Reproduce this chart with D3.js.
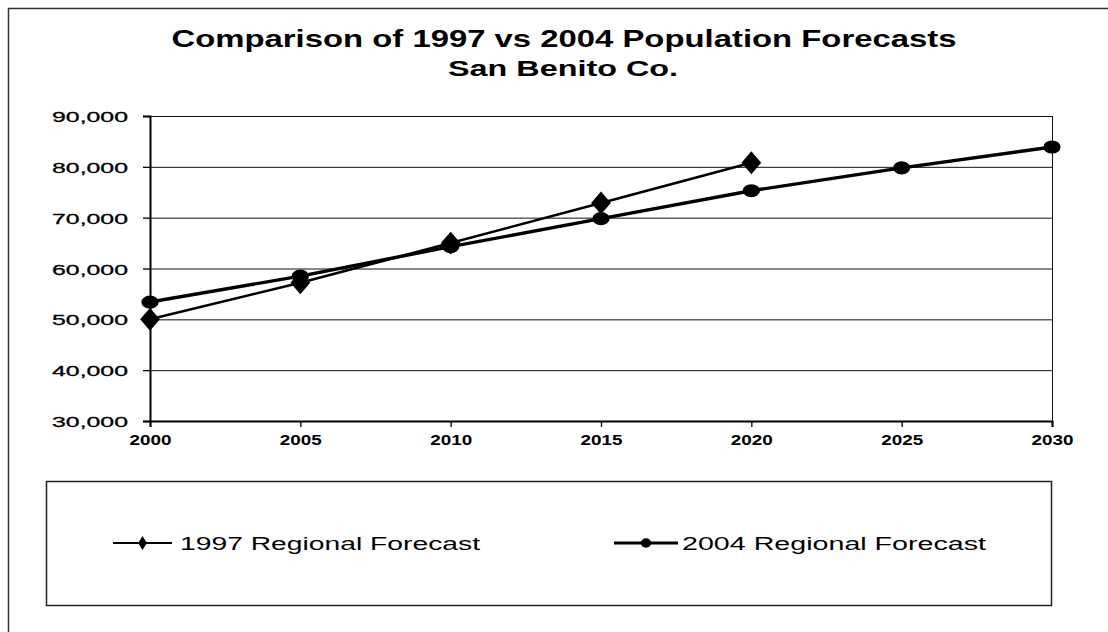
<!DOCTYPE html>
<html><head><meta charset="utf-8">
<script src="https://cdn.jsdelivr.net/npm/d3@7"></script>
<style>body{margin:0;background:#fff;}svg{display:block;}</style>
</head><body>
<svg id="c" width="1108" height="632"></svg>
<script>
const years = [2000, 2005, 2010, 2015, 2020, 2025, 2030];
const forecast1997 = [50000, 57200, 65000, 72900, 80800];
const forecast2004 = [53400, 58500, 64300, 69800, 75300, 79800, 83900];
const yTicks = [30000, 40000, 50000, 60000, 70000, 80000, 90000];
const seriesNames = ["1997 Regional Forecast", "2004 Regional Forecast"];
const titleLines = ["Comparison of 1997 vs 2004 Population Forecasts", "San Benito Co."];

const svg = d3.select("#c");
const font = "'Liberation Sans', Arial, sans-serif";
const x = d3.scaleLinear().domain([2000, 2030]).range([150, 1052]);
const y = d3.scaleLinear().domain([30000, 90000]).range([421, 116]);

// outer border
svg.append("path").attr("d", "M8.5,640V8.5H1110").attr("fill", "none").attr("stroke", "#333").attr("stroke-width", 1.5);

// title
svg.append("text").attr("x", 564).attr("y", 47).attr("text-anchor", "middle")
  .attr("font-family", font).attr("font-weight", "bold").attr("font-size", 23)
  .attr("textLength", 785).attr("lengthAdjust", "spacingAndGlyphs").text(titleLines[0]);
svg.append("text").attr("x", 563).attr("y", 76).attr("text-anchor", "middle")
  .attr("font-family", font).attr("font-weight", "bold").attr("font-size", 22)
  .attr("textLength", 230).attr("lengthAdjust", "spacingAndGlyphs").text(titleLines[1]);

// gridlines
svg.append("g").selectAll("line").data(yTicks.slice(1)).join("line")
  .attr("x1", 150).attr("x2", 1052).attr("y1", d => y(d) + 0.5).attr("y2", d => y(d) + 0.5)
  .attr("stroke", "#111").attr("stroke-width", 1);
// right border
svg.append("line").attr("x1", 1052.5).attr("x2", 1052.5).attr("y1", y(90000)).attr("y2", y(30000))
  .attr("stroke", "#111").attr("stroke-width", 1);

// y axis
const yAxis = svg.append("g").attr("transform", "translate(150,0)")
  .call(d3.axisLeft(y).tickValues(yTicks).tickSize(7).tickFormat(d3.format(",")));
yAxis.select(".domain").attr("stroke", "#000").attr("stroke-width", 2);
yAxis.selectAll(".tick line").attr("stroke", "#000").attr("stroke-width", 1.3);
yAxis.selectAll(".tick text").attr("x", -22).attr("dy", "0.36em")
  .attr("font-family", font).attr("font-size", 15.5).attr("fill", "#000")
  .attr("stroke", "#000").attr("stroke-width", 0.3)
  .attr("textLength", 76).attr("lengthAdjust", "spacingAndGlyphs");

// x axis
const xAxis = svg.append("g").attr("transform", "translate(0,421)")
  .call(d3.axisBottom(x).tickValues(years).tickSize(6).tickFormat(d3.format("d")));
xAxis.select(".domain").attr("stroke", "#000").attr("stroke-width", 2);
xAxis.selectAll(".tick line").attr("stroke", "#000").attr("stroke-width", 1.3);
xAxis.selectAll(".tick text").attr("y", 14).attr("dy", "0.71em")
  .attr("font-family", font).attr("font-weight", "bold").attr("font-size", 14).attr("fill", "#000")
  .attr("textLength", 42).attr("lengthAdjust", "spacingAndGlyphs");

const line = d3.line().x((d, i) => x(years[i])).y(d => y(d));
svg.append("path").datum(forecast1997).attr("d", line).attr("fill", "none").attr("stroke", "#000").attr("stroke-width", 2.6);
svg.append("path").datum(forecast2004).attr("d", line).attr("fill", "none").attr("stroke", "#000").attr("stroke-width", 3.4);

const diamond = d3.symbol().type(d3.symbolDiamond).size(150)();
const circle = d3.symbol().type(d3.symbolCircle).size(150)();
svg.append("g").selectAll("path").data(forecast1997).join("path")
  .attr("d", diamond)
  .attr("transform", (d, i) => `translate(${x(years[i])},${y(d)}) scale(1.5,1.0)`)
  .attr("fill", "#000");
svg.append("g").selectAll("path").data(forecast2004).join("path")
  .attr("d", circle)
  .attr("transform", (d, i) => `translate(${x(years[i])},${y(d)}) scale(1.25,0.95)`)
  .attr("fill", "#000");

// legend
svg.append("rect").attr("x", 46.5).attr("y", 481.5).attr("width", 1005).attr("height", 124)
  .attr("fill", "none").attr("stroke", "#222").attr("stroke-width", 1.5);
const leg = [
  {x0: 113, x1: 172, sym: d3.symbol().type(d3.symbolDiamond).size(55)(), sx: 1.1, tx: 180, w: 300, sw: 2.2},
  {x0: 614, x1: 678, sym: d3.symbol().type(d3.symbolCircle).size(70)(), sx: 1.1, tx: 682, w: 304, sw: 3}
];
const lg = svg.append("g").selectAll("g").data(seriesNames).join("g");
lg.append("line").attr("x1", (d, i) => leg[i].x0).attr("x2", (d, i) => leg[i].x1)
  .attr("y1", 543).attr("y2", 543).attr("stroke", "#000").attr("stroke-width", (d, i) => leg[i].sw);
lg.append("path").attr("d", (d, i) => leg[i].sym)
  .attr("transform", (d, i) => `translate(${(leg[i].x0 + leg[i].x1) / 2},543) scale(${leg[i].sx},1)`)
  .attr("fill", "#000");
lg.append("text").attr("x", (d, i) => leg[i].tx).attr("y", 550)
  .attr("font-family", font).attr("font-size", 17.5).attr("fill", "#000")
  .attr("textLength", (d, i) => leg[i].w).attr("lengthAdjust", "spacingAndGlyphs")
  .text(d => d);
</script>
</body></html>
